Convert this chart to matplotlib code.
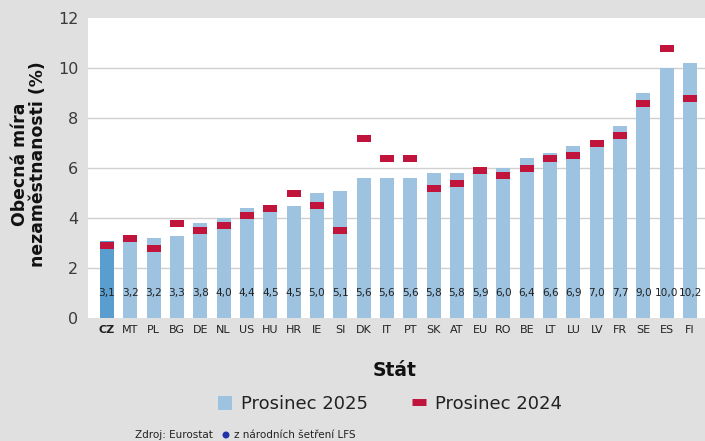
import matplotlib.pyplot as plt
import numpy as np
from matplotlib.patches import Patch, Ellipse
from matplotlib.lines import Line2D

countries = ['CZ', 'MT', 'PL', 'BG', 'DE', 'NL', 'US', 'HU', 'HR', 'IE', 'SI', 'DK', 'IT',
             'PT', 'SK', 'AT', 'EU', 'RO', 'BE', 'LT', 'LU', 'LV', 'FR', 'SE', 'ES', 'FI']
dec2025 = [3.1, 3.2, 3.2, 3.3, 3.8, 4.0, 4.4, 4.5, 4.5, 5.0, 5.1, 5.6, 5.6,
           5.6, 5.8, 5.8, 5.9, 6.0, 6.4, 6.6, 6.9, 7.0, 7.7, 9.0, 10.0, 10.2]
dec2024 = [2.9, 3.2, 2.8, 3.8, 3.5, 3.7, 4.1, 4.4, 5.0, 4.5, 3.5, 7.2, 6.4,
           6.4, 5.2, 5.4, 5.9, 5.7, 6.0, 6.4, 6.5, 7.0, 7.3, 8.6, 10.8, 8.8]
yticks = [0, 2, 4, 6, 8, 10, 12]

bg = '#e0e0e0'
blue = '#9dc3e1'
blue_cz = '#5a9ecf'
red = '#c0143c'
txt = '#222222'

plt.rcParams['font.family'] = ['DejaVu Sans']

fig = plt.figure(figsize=(7.05, 4.41), dpi=100, facecolor=bg)
ax = fig.add_axes([88 / 705, 1 - 318.3 / 441, 1 - 88 / 705, 300 / 441])
ax.set_facecolor('white')

x = np.arange(len(countries))
colors = [blue_cz if c == 'CZ' else blue for c in countries]
ax.bar(x, dec2025, width=0.6, color=colors, zorder=2)

# prosinec 2024 shown as short red markers
mark_h = 0.28
ax.bar(x, mark_h, bottom=np.array(dec2024) - mark_h / 2, width=0.6, color=red, zorder=3)

for i, v in enumerate(dec2025):
    ax.text(i, 1.0, f'{v:.1f}'.replace('.', ','), ha='center', va='center',
            fontsize=7.6, color=txt, zorder=4)

ax.set_xlim(-0.815, 25.64)
ax.set_ylim(0, 12)
ax.set_yticks(yticks)
ax.set_yticklabels([str(t) for t in yticks], fontsize=11.5, color='#3a3a3a')
ax.set_xticks(x)
ax.set_xticklabels(countries, fontsize=8, color=txt)
ax.get_xticklabels()[0].set_fontweight('bold')
ax.tick_params(axis='both', length=0)
ax.tick_params(axis='y', pad=7)
ax.tick_params(axis='x', pad=5)
for s in ax.spines.values():
    s.set_visible(False)

ax.yaxis.grid(True, color='#d0d0d0', lw=1.0)
ax.set_axisbelow(True)
gls = ax.get_ygridlines()
gls[0].set_visible(False)
gls[-1].set_visible(False)

fig.text(29 / 705, 1 - 164 / 441, 'Obecná míra\nnezaměstnanosti (%)', rotation=90,
         ha='center', va='center', fontsize=12.4, fontweight='bold', color='#111111',
         multialignment='center', linespacing=1.05)

fig.text(395 / 705, 1 - 371 / 441, 'Stát', ha='center', va='center',
         fontsize=13.5, fontweight='bold', color='#111111')

handles = [Patch(facecolor=blue, edgecolor='none'),
           Line2D([], [], color=red, lw=5, solid_capstyle='butt')]
fig.legend(handles, ['Prosinec 2025', 'Prosinec 2024'], loc='center',
           bbox_to_anchor=(390 / 705, 1 - 404 / 441), ncol=2, frameon=False,
           fontsize=13, handlelength=0.8, handleheight=0.85, handletextpad=0.5,
           columnspacing=2.4, labelcolor=txt)

# zdroj
fig.text(135 / 705, 1 - 430 / 441, 'Zdroj: Eurostat', ha='left', va='top',
         fontsize=7.5, color=txt)
fig.patches.append(Ellipse((226 / 705, 1 - 435 / 441), 7 / 705, 7 / 441,
                           transform=fig.transFigure, facecolor='#2233aa', edgecolor='none'))
fig.text(234 / 705, 1 - 430 / 441, 'z národních šetření LFS', ha='left', va='top',
         fontsize=7.5, color=txt)

fig.savefig('out.png', dpi=100, facecolor=bg)
